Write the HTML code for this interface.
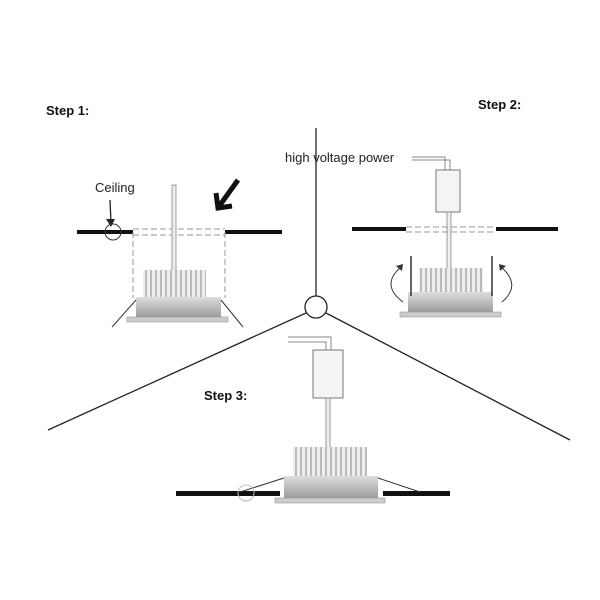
<!DOCTYPE html><html><head><style>body{margin:0;background:#fff}svg{display:block}</style></head><body>
<svg width="600" height="600" viewBox="0 0 600 600" xmlns="http://www.w3.org/2000/svg" font-family="Liberation Sans, sans-serif">
<defs><linearGradient id="b" x1="0" y1="0" x2="0" y2="1"><stop offset="0" stop-color="#ddd"/><stop offset=".5" stop-color="#bbb"/><stop offset="1" stop-color="#999"/></linearGradient>
<pattern id="f" width="5" height="10" patternUnits="userSpaceOnUse"><rect width="5" height="10" fill="#eee"/><line x1="1" y1="0" x2="1" y2="10" stroke="#888" stroke-width="1"/></pattern></defs>
<g font-weight="bold" font-size="13" fill="#111"><text x="46" y="115">Step 1:</text><text x="478" y="109">Step 2:</text><text x="204" y="400">Step 3:</text></g>
<g stroke="#222" stroke-width="1.3" fill="none">
<line x1="316" y1="128" x2="316" y2="296"/><circle cx="316" cy="307" r="11" fill="#fff"/>
<line x1="306" y1="313" x2="48" y2="430"/><line x1="326" y1="313" x2="570" y2="440"/></g>
<!-- panel 1 -->
<text x="95" y="192" font-size="13" fill="#222">Ceiling</text>
<line x1="110" y1="200" x2="111" y2="223" stroke="#222" stroke-width="1.3"/><path d="M106 219 L111 227 L115 219Z" fill="#222"/>
<rect x="77" y="230" width="56" height="4" fill="#111"/><rect x="225" y="230" width="57" height="4" fill="#111"/>
<circle cx="113" cy="232" r="8" fill="none" stroke="#333"/>
<g stroke="#999" stroke-dasharray="6,3" fill="none"><line x1="133" y1="229" x2="225" y2="229"/><line x1="133" y1="235" x2="225" y2="235"/><line x1="133" y1="232" x2="133" y2="298"/><line x1="225" y1="232" x2="225" y2="298"/></g>
<path d="M238 180 L220 205 M216 193 L218 208 L232 206" stroke="#111" stroke-width="5" fill="none"/>
<rect x="172" y="185" width="4" height="86" fill="#eee" stroke="#888" stroke-width=".8"/>
<rect x="143" y="270" width="63" height="28" fill="url(#f)"/>
<rect x="136" y="297" width="85" height="21" fill="url(#b)"/><rect x="127" y="317" width="101" height="5" fill="#ccc" stroke="#999" stroke-width=".6"/>
<line x1="136" y1="300" x2="112" y2="327" stroke="#333"/><line x1="221" y1="300" x2="243" y2="327" stroke="#333"/>
<!-- panel 2 -->
<text x="285" y="162" font-size="13" fill="#222">high voltage power</text>
<path d="M412 157 H445 V170 M412 160 H450 V170" stroke="#888" fill="none"/>
<rect x="436" y="170" width="24" height="42" fill="#f4f4f4" stroke="#777"/>
<rect x="447" y="212" width="4" height="57" fill="#eee" stroke="#888" stroke-width=".8"/>
<rect x="352" y="227" width="54" height="4" fill="#111"/><rect x="496" y="227" width="62" height="4" fill="#111"/>
<g stroke="#999" stroke-dasharray="6,3"><line x1="406" y1="227" x2="496" y2="227"/><line x1="406" y1="232" x2="496" y2="232"/></g>
<rect x="419" y="268" width="64" height="25" fill="url(#f)"/>
<rect x="408" y="292" width="85" height="21" fill="url(#b)"/><rect x="400" y="312" width="101" height="5" fill="#ccc" stroke="#999" stroke-width=".6"/>
<line x1="411" y1="256" x2="411" y2="296" stroke="#333" stroke-width="1.5"/><line x1="492" y1="256" x2="492" y2="296" stroke="#333" stroke-width="1.5"/>
<path d="M403 302 Q380 285 401 267" stroke="#333" fill="none"/><path d="M396 266 L403 264 L402 271Z" fill="#333"/>
<path d="M502 302 Q522 285 501 267" stroke="#333" fill="none"/><path d="M506 266 L499 264 L500 271Z" fill="#333"/>
<!-- panel 3 -->
<path d="M288 342 H326 V350 M288 337 H331 V350" stroke="#888" fill="none"/>
<rect x="313" y="350" width="30" height="48" fill="#f4f4f4" stroke="#777"/>
<rect x="326" y="398" width="4" height="50" fill="#eee" stroke="#888" stroke-width=".8"/>
<rect x="293" y="447" width="74" height="30" fill="url(#f)"/>
<rect x="176" y="491" width="104" height="5" fill="#111"/><rect x="383" y="491" width="67" height="5" fill="#111"/>
<rect x="284" y="476" width="94" height="23" fill="url(#b)"/><rect x="275" y="498" width="110" height="5" fill="#ccc" stroke="#999" stroke-width=".6"/>
<line x1="284" y1="478" x2="240" y2="492" stroke="#333"/><line x1="378" y1="478" x2="420" y2="492" stroke="#333"/>
<circle cx="246" cy="493" r="8" fill="none" stroke="#bbb"/>
</svg></body></html>
